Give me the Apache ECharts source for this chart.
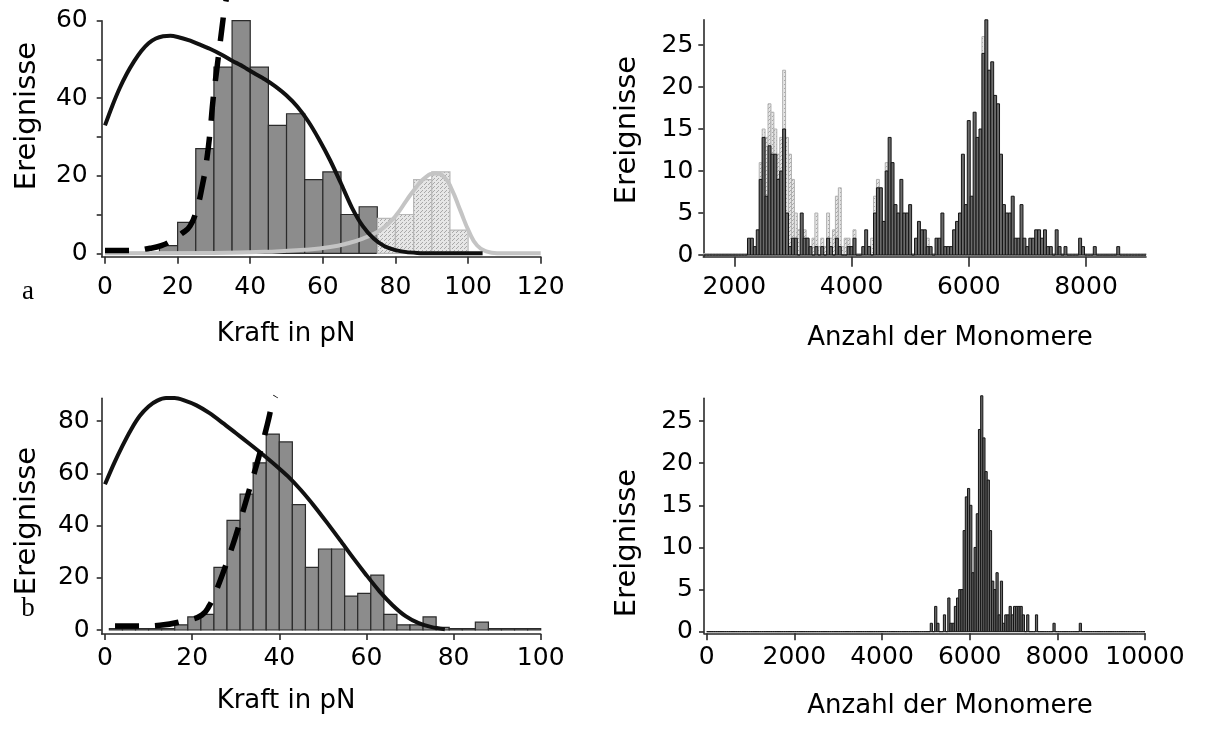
<!DOCTYPE html>
<html><head><meta charset="utf-8">
<script src="https://cdn.jsdelivr.net/npm/echarts@6/dist/echarts.min.js"></script>
<style>html,body{margin:0;padding:0;background:#fff}#c{width:1206px;height:729px}</style>
</head><body><div id="c"></div>
<script>
// ---------- Panel a: force histogram (pN) ----------
const forceBinWidthA = 5;
const forceBinStartA = 15;
const countsA = [2, 8, 27, 48, 60, 48, 33, 36, 19, 21, 10, 12];
const hatchBinStartA = 75;
const hatchCountsA = [9, 10, 19, 21, 6];
const fitSolidA = [[0,33],[2,38],[4,42.5],[6,46.3],[8,49.5],[10,52.2],[12,54.2],[14,55.4],[16,56],[18,56.1],[20,55.8],[23,55],[26,53.9],[29,52.7],[32,51.3],[35,49.7],[38,48.2],[41,46.5],[44,44.9],[47,43],[50,40.7],[53,37.8],[56,34],[59,29.3],[62,24],[65,18],[68,11.8],[71,7],[74,3.8],[77,1.8],[80,0.8],[83,0.3],[86,0.1],[89,0],[104,0]];
const fitDashedA = [[0,0.7],[7,0.7],[12.4,1.3],[15.5,2],[18.4,3.3],[21,5],[23.4,7],[25.3,11.5],[26.7,17],[28,24],[29,32],[29.8,40],[30.6,46],[31.4,52],[32.2,58],[32.9,63],[33.4,65.5]];
const fitGreyA = [[0,0],[30,0.1],[45,0.4],[55,0.9],[62,1.6],[67,2.6],[71,3.8],[75,5.5],[78,7.6],[80.5,10.2],[83,13.6],[85.5,16.8],[88,19.4],[91,20.6],[93.5,19.6],[95.5,16.5],[97.8,11.2],[100.3,5.5],[102.5,2],[105,0.5],[108,0],[120,0]];
const xTicksA = [0, 20, 40, 60, 80, 100, 120];
const yTicksA = [0, 10, 20, 30, 40, 50, 60];
const yLabelsA = [0, 20, 40, 60];

// ---------- Panel b: force histogram (pN) ----------
const forceBinWidthB = 3;
const forceBinStartB = 1;
const countsB = [0.5,0.5,0.5,0.5,0.5, 2,5,6,24,42, 52,64,75,72,48, 24,31,31,13,14, 21,6,2,2,5, 1,0.5,0.5,3,0.5, 0.5,0.5,0.5];
const fitSolidB = [[0,55.8],[2,63.5],[4,70.5],[6,76.8],[8,82],[10,85.6],[12,87.8],[14,88.8],[16,88.8],[18,88],[21,86],[24,83],[27,79.3],[30,75.4],[33,71.5],[36,67.5],[39,63.3],[42,58.8],[45,53.5],[48,47.5],[51,41],[54,34.3],[57,27.5],[60,21],[63,14.8],[66,9.5],[69,5.3],[72,2.6],[75,1.1],[78,0.3]];
const fitDashedB = [[2.3,1.5],[8,1.5],[12.6,1.8],[18.4,3.6],[22.2,5.7],[24,9.5],[25.5,15],[27,21.5],[28.5,28.5],[30,36],[31.5,44.5],[33,53],[34.5,61.5],[36,70.5],[37.3,79],[38.5,87],[39.2,89.5]];
const xTicksB = [0, 20, 40, 60, 80, 100];
const yTicksB = [0, 20, 40, 60, 80];

// ---------- Panel c: monomer-count histogram (bins of 50 from 1475) ----------
const monoBinWidth = 50;
const monoBinStartC = 1475;
const darkC = [
 0,0,0,0,0,0,0,0,0,0,0,0,0,0,0,
 2,2,1,3,9,14,7,13,12,12,9,10,15,5,1,2,2,0,5,2,
 2,1,0,1,0,1,0,2,1,0,2,1,0,0,1,
 1,2,0,0,1,3,1,0,5,8,8,4,10,14,11,
 6,5,9,5,5,6,0,2,4,3,3,1,1,0,2,
 2,5,1,1,1,3,4,5,12,6,16,7,17,14,15,
 24,28,22,23,19,18,12,6,5,5,7,2,2,6,2,
 1,2,2,3,3,2,3,1,1,0,3,1,0,1,0,
 0,0,0,2,1,0,0,0,1,0,0,0,0,0,0,
 0,1,0,0,0,0,0,0,0,0,0];
const greyC = [
 0,0,0,0,0,0,0,0,0,0,0,0,0,0,0,
 0,0,0,0,11,15,14,18,17,15,12,14,22,14,12,9,5,3,2,3,
 2,1,2,5,1,2,1,5,2,3,7,8,1,2,2,
 1,3,0,0,0,0,0,2,7,9,8,4,11,0,0,
 0,0,0,0,0,0,0,0,0,0,0,2,0,0,0,
 0,0,0,0,0,0,0,0,0,0,0,0,0,0,0,
 26,0,0,0,0,0,0,0,0,0,0,0,0,0,0,
 0,0,0,0,0,0,0,0,0,0,0,0,0,0,0,
 0,0,0,0,0,0,0,0,0,0,0,0,0,0,0,
 0,0,0,0,0,0,0,0,0,0,0];
const xTicksC = [2000, 4000, 6000, 8000];
const yTicksC = [0, 5, 10, 15, 20, 25];

// ---------- Panel d: monomer-count histogram (bins of 50 from 0) ----------
const monoBinStartD = 0;
const darkD = [
 0,0,0,0,0,0,0,0,0,0,0,0,0,0,0,0,0,0,0,0,
 0,0,0,0,0,0,0,0,0,0,0,0,0,0,0,0,0,0,0,0,
 0,0,0,0,0,0,0,0,0,0,0,0,0,0,0,0,0,0,0,0,
 0,0,0,0,0,0,0,0,0,0,0,0,0,0,0,0,0,0,0,0,
 0,0,0,0,0,0,0,0,0,0,0,0,0,0,0,0,0,0,0,0,
 0,0,1,0,3,1,0,0,2,0,4,1,1,3,4,5,5,12,16,17,
 15,7,10,14,24,28,23,19,18,12,6,5,7,2,6,1,2,2,3,2,
 3,3,3,3,2,0,2,0,0,0,2,0,0,0,0,0,0,0,1,0,
 0,0,0,0,0,0,0,0,0,0,1,0,0,0,0,0,0,0,0,0,
 0,0,0,0,0,0,0,0,0,0,0,0,0,0,0,0,0,0,0,0];
const xTicksD = [0, 2000, 4000, 6000, 8000, 10000];
const yTicksD = [0, 5, 10, 15, 20, 25];

// ---------- helpers ----------
const FONT = 'DejaVu Sans';
const AX = '#2a2a2a';
function makeStipple(base, dot) {
  const cv = document.createElement('canvas');
  cv.width = 4; cv.height = 4;
  const g = cv.getContext('2d');
  g.fillStyle = base; g.fillRect(0, 0, 4, 4);
  g.fillStyle = dot; g.fillRect(0, 0, 1, 1); g.fillRect(2, 2, 1, 1); g.fillRect(1, 3, 1, 1);
  return { image: cv, repeat: 'repeat' };
}
const stipple = makeStipple('#e6e6e6', '#a8a8a8');
function bins(start, width, counts) {
  return counts.map((c, i) => [start + i * width, start + (i + 1) * width, c]);
}
function histSeries(idx, data, fill, stroke, lw, minH, z) {
  return {
    type: 'custom', xAxisIndex: idx, yAxisIndex: idx, silent: true, z: z,
    encode: { x: [0, 1], y: 2 },
    renderItem: function (params, api) {
      const p0 = api.coord([api.value(0), api.value(2)]);
      const p1 = api.coord([api.value(1), 0]);
      let h = p1[1] - p0[1];
      if (h < minH) h = minH;
      return { type: 'rect', shape: { x: p0[0], y: p1[1] - h, width: p1[0] - p0[0], height: h },
               style: { fill: fill, stroke: stroke, lineWidth: lw } };
    },
    data: data
  };
}
function lineSeries(idx, data, color, width, dash, z, smooth) {
  return { type: 'line', xAxisIndex: idx, yAxisIndex: idx, data: data, symbol: 'none', showSymbol: false,
           smooth: smooth, clip: false, silent: true, z: z,
           lineStyle: { color: color, width: width, type: dash || 'solid', cap: 'butt', join: 'round' } };
}
function xAxisDef(idx, min, max, ticks, tickLen, margin) {
  return { type: 'value', gridIndex: idx, min: min, max: max, splitLine: { show: false },
    axisLine: { onZero: false, lineStyle: { color: AX, width: 1.6 } },
    axisTick: { customValues: ticks, length: tickLen, lineStyle: { color: AX, width: 1.6 } },
    axisLabel: { customValues: ticks, fontFamily: FONT, fontSize: 25, color: '#000', margin: margin,
                 formatter: function (v) { return String(v); } } };
}
function yAxisDef(idx, min, max, ticks, labels, margin) {
  return { type: 'value', gridIndex: idx, min: min, max: max, splitLine: { show: false },
    axisLine: { onZero: false, lineStyle: { color: AX, width: 1.6 } },
    axisTick: { customValues: ticks, length: 5, lineStyle: { color: AX, width: 1.6 } },
    axisLabel: { customValues: labels, fontFamily: FONT, fontSize: 25, color: '#000', margin: margin,
                 formatter: function (v) { return String(v); } } };
}
function txt(x, y, s, size, rot, family) {
  return { type: 'text', x: x, y: y, rotation: rot || 0, silent: true,
           style: { text: s, font: size + 'px "' + (family || FONT) + '"', fill: '#000', align: 'center', verticalAlign: 'middle' } };
}

const chart = echarts.init(document.getElementById('c'));
chart.setOption({
  animation: false,
  backgroundColor: '#fff',
  grid: [
    { left: 101.7, top: 20.7, width: 439, height: 236 },
    { left: 101.7, top: 398.3, width: 439, height: 235.7 },
    { left: 703.3, top: 19.8, width: 442.7, height: 236.9 },
    { left: 704, top: 398.3, width: 441, height: 235 }
  ],
  xAxis: [
    xAxisDef(0, -0.91, 120, xTicksA, 7, 18),
    xAxisDef(1, -0.76, 100, xTicksB, 6, 12),
    xAxisDef(2, 1471, 9024, xTicksC, 10, 18),
    xAxisDef(3, -62, 10000, xTicksD, 7, 12)
  ],
  yAxis: [
    yAxisDef(0, -0.88, 60, yTicksA, yLabelsA, 14),
    yAxisDef(1, -1.53, 88.7, yTicksB, yTicksB, 12),
    yAxisDef(2, -0.2, 28, yTicksC, yTicksC, 10),
    yAxisDef(3, -0.19, 27.7, yTicksD, yTicksD, 11)
  ],
  series: [
    histSeries(0, bins(forceBinStartA, forceBinWidthA, countsA), '#8c8c8c', '#2b2b2b', 1.2, 0, 2),
    histSeries(0, bins(hatchBinStartA, forceBinWidthA, hatchCountsA), stipple, '#b8b8b8', 1.2, 0, 2),
    lineSeries(0, fitGreyA, '#c4c4c4', 4, 'solid', 4, 0.5),
    lineSeries(0, fitSolidA, '#111', 4, 'solid', 5, 0.25),
    lineSeries(0, fitDashedA, '#000', 5.5, [24, 16], 6, 0.5),

    histSeries(1, bins(forceBinStartB, forceBinWidthB, countsB), '#8c8c8c', '#2b2b2b', 1.2, 0, 2),
    lineSeries(1, fitSolidB, '#111', 4, 'solid', 5, 0.25),
    lineSeries(1, fitDashedB, '#000', 5.5, [24, 16], 6, 0.5),

    histSeries(2, bins(monoBinStartC, monoBinWidth, greyC), stipple, '#b0b0b0', 1, 1.5, 2),
    histSeries(2, bins(monoBinStartC, monoBinWidth, darkC), '#6b6b6b', '#141414', 1, 0, 3),

    histSeries(3, bins(monoBinStartD, monoBinWidth, darkD), '#6b6b6b', '#141414', 1, 0, 3)
  ],
  graphic: [
    txt(27, 116, 'Ereignisse', 29, Math.PI / 2),
    txt(627, 130, 'Ereignisse', 29, Math.PI / 2),
    txt(27, 521, 'Ereignisse', 29, Math.PI / 2),
    txt(627, 543, 'Ereignisse', 29, Math.PI / 2),
    txt(286, 334, 'Kraft in pN', 26),
    txt(286, 701, 'Kraft in pN', 26),
    txt(950, 338, 'Anzahl der Monomere', 26),
    txt(950, 706, 'Anzahl der Monomere', 26),
    txt(28, 292, 'a', 27, 0, 'Liberation Serif'),
    txt(28, 609, 'b', 27, 0, 'Liberation Serif')
  ]
});
</script>
</body></html>
